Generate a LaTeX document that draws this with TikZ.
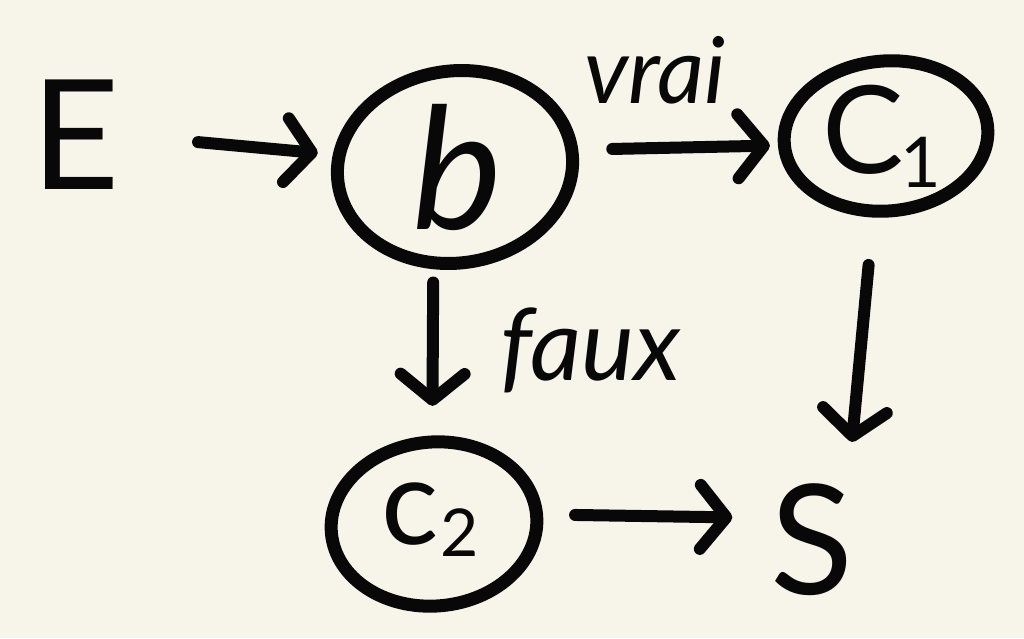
\documentclass[tikz,border=0pt]{standalone}
\usepackage{fontspec}
\setmainfont{Lato}
\usetikzlibrary{arrows.meta,shapes.geometric}
\definecolor{paper}{RGB}{247,245,234}
\definecolor{ink}{RGB}{8,8,8}
\begin{document}
\begin{tikzpicture}[x=1pt,y=-1pt,
  ink line/.style={draw=ink, line width=12pt, line cap=round, line join=round},
  state/.style={ink line, ellipse, inner sep=0pt, line width=13pt},
  word/.style={text=ink, inner sep=0pt},
  flow/.style={ink line, -{Straight Barb[length=26pt,width=64pt,round]}}]
  % paper
  \fill[paper] (0,0) rectangle (1024,638);
  \useasboundingbox (0,0) rectangle (1024,638);

  % states
  \node[state, minimum width=236pt, minimum height=192pt, rotate=8] (b) at (455,167) {};
  \node[state, minimum width=204pt, minimum height=150pt, rotate=5] (c1) at (886,136) {};
  \node[state, minimum width=206pt, minimum height=164pt, rotate=5] (c2) at (434,524) {};

  % labels inside the states
  \node[word, font=\fontsize{170}{175}\selectfont\itshape] (bl) at ([xshift=2pt]b.center) {b};
  \node[word, font=\fontsize{122}{126}\selectfont] (c1l) at ([xshift=-4pt]c1.center) {C\kern-4pt\raisebox{-14pt}{\fontsize{70}{72}\selectfont 1}};
  \node[word, font=\fontsize{120}{124}\selectfont] (c2l) at ([xshift=-4pt,yshift=4pt]c2.center) {c\kern2pt\raisebox{-12pt}{\fontsize{66}{68}\selectfont 2}};

  % entry and exit
  \node[word, font=\fontsize{153}{156}\selectfont] (E) at (76,135) {E};
  \node[word, font=\fontsize{153}{156}\selectfont] (S) at (812,540) {S};

  % transitions
  \draw[flow, shorten <=78pt, shorten >=14pt] (E.east) -- ([yshift=30pt]b.west);
  \draw[flow, shorten <=34pt, shorten >=8pt] (b.east) -- (c1.west);
  \draw[flow, shorten <=14pt, shorten >=30pt] ([xshift=-36pt]b.south) -- ([xshift=6pt]c2.north);
  \draw[flow, shorten <=48pt, shorten >=42pt] ([xshift=-20pt]c1.south) -- ([xshift=36pt]S.north);
  \draw[flow, shorten <=32pt, shorten >=38pt] (c2.east) -- ([yshift=22pt]S.west);

  % branch labels
  \node[word, font=\fontsize{92}{96}\selectfont\itshape] (vrai) at (655,70) {vrai};
  \node[word, font=\fontsize{100}{104}\selectfont\itshape, anchor=base west] (faux) at (500,380) {faux};
\end{tikzpicture}
\end{document}
